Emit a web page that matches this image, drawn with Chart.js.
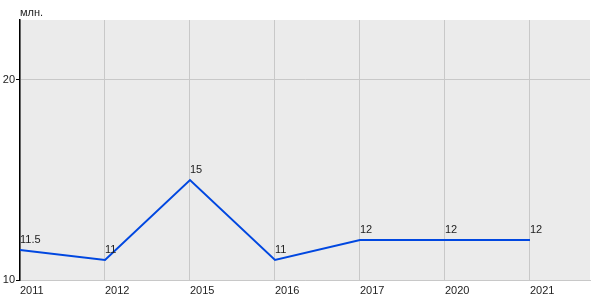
<!DOCTYPE html>
<html>
<head>
<meta charset="utf-8">
<script src="https://cdn.jsdelivr.net/npm/chart.js@4"></script>
<style>
  html, body { margin: 0; padding: 0; background: #fff; }
  #wrap { width: 600px; height: 300px; }
</style>
</head>
<body>
<div id="wrap"><canvas id="lineChart" width="600" height="300"></canvas></div>
<script>
let years = ['2011', '2012', '2015', '2016', '2017', '2020', '2021'];
let values = [11.5, 11, 15, 11, 12, 12, 12];
let valueLabels = ['11.5', '11', '15', '11', '12', '12', '12'];
let yTicks = [10, 20];
let unitLabel = 'млн.';

let font = { family: 'Arial, "Liberation Sans", sans-serif', size: 11 };

// plot background and the unit text above the y axis
let backgroundPlugin = {
    id: 'plotBg',
    beforeDraw: function(chart){
        let ctx = chart.ctx;
        let a = chart.chartArea;
        ctx.save();
        ctx.fillStyle = '#ebebeb';
        ctx.fillRect(a.left, a.top, a.right - a.left, a.bottom - a.top);
        ctx.fillStyle = '#222';
        ctx.font = '11px Arial, "Liberation Sans", sans-serif';
        ctx.textBaseline = 'middle';
        ctx.textAlign = 'left';
        ctx.fillText(unitLabel, a.left, 13);
        ctx.restore();
    }
};

let valueLabelPlugin = {
    id: 'valueLabels',
    afterDatasetsDraw: function(chart){
        let ctx = chart.ctx;
        let meta = chart.getDatasetMeta(0);
        ctx.save();
        ctx.fillStyle = '#222';
        ctx.font = '11px Arial, "Liberation Sans", sans-serif';
        ctx.textAlign = 'left';
        ctx.textBaseline = 'bottom';
        meta.data.forEach(function(pt, i){
            ctx.fillText(valueLabels[i], pt.x, pt.y - 5);
        });
        ctx.restore();
    }
};

let points = values.map(function(v, i){ return { x: i, y: v }; });

new Chart(document.getElementById('lineChart').getContext('2d'), {
    type: 'line',
    data: {
        datasets: [{
            data: points,
            borderColor: '#0047e0',
            borderWidth: 2,
            pointRadius: 0,
            tension: 0,
            fill: false
        }]
    },
    options: {
        responsive: false,
        animation: false,
        layout: { padding: { top: 20, right: 10, left: 0, bottom: 0 } },
        plugins: { legend: { display: false }, tooltip: { enabled: false } },
        scales: {
            x: {
                type: 'linear',
                min: 0,
                max: 6.706,
                afterBuildTicks: function(scale){
                    scale.ticks = years.map(function(y, i){ return { value: i }; });
                },
                afterFit: function(scale){ scale.height = 20; },
                grid: { color: '#c8c8c8', lineWidth: 1, drawTicks: false },
                border: { color: '#c8c8c8', width: 1 },
                ticks: {
                    font: font,
                    color: '#222',
                    align: 'start',
                    padding: 4,
                    maxRotation: 0,
                    autoSkip: false,
                    callback: function(v){ return years[v]; }
                }
            },
            y: {
                min: 10,
                max: 23,
                afterBuildTicks: function(scale){
                    scale.ticks = yTicks.map(function(v){ return { value: v }; });
                },
                afterFit: function(scale){ scale.width = 20; },
                grid: {
                    color: '#c8c8c8',
                    lineWidth: 1,
                    tickLength: 4,
                    tickColor: '#000'
                },
                border: { color: '#000', width: 1.5 },
                ticks: { font: font, color: '#222', padding: 1 }
            }
        }
    },
    plugins: [backgroundPlugin, valueLabelPlugin]
});
</script>
</body>
</html>
